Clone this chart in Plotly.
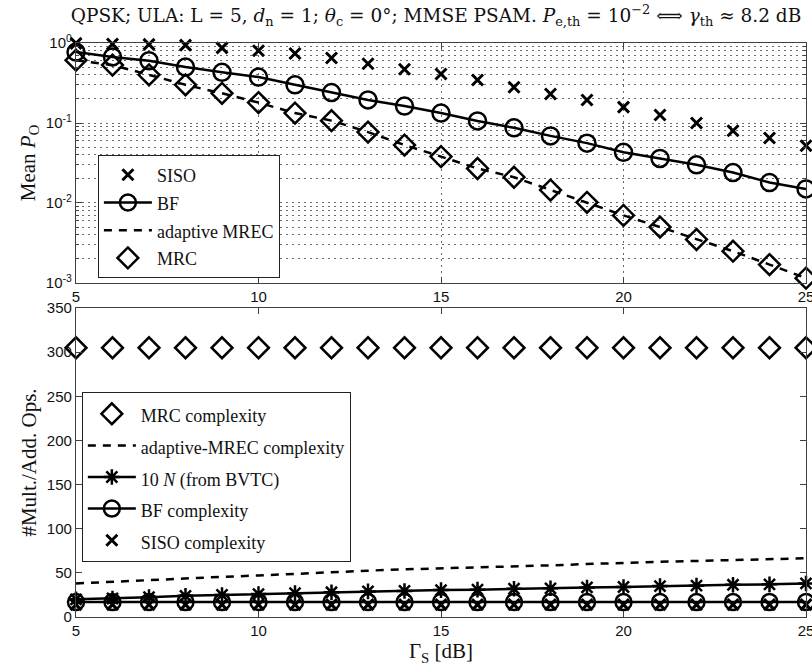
import plotly.graph_objects as go

# SNR grid (dB)
snr_db = [5, 6, 7, 8, 9, 10, 11, 12, 13, 14, 15, 16, 17, 18, 19, 20, 21, 22, 23, 24, 25]

# Mean outage probability per scheme
siso_po = [0.99, 0.97, 0.96, 0.94, 0.87, 0.80, 0.74, 0.65, 0.55, 0.47, 0.41,
           0.345, 0.28, 0.23, 0.194, 0.158, 0.126, 0.10, 0.08, 0.065, 0.052]
bf_po = [0.77, 0.67, 0.60, 0.50, 0.43, 0.375, 0.30, 0.24, 0.194, 0.163, 0.133,
         0.106, 0.087, 0.069, 0.056, 0.043, 0.036, 0.030, 0.024, 0.018, 0.015]
amrec_po = [0.61, 0.53, 0.40, 0.30, 0.235, 0.18, 0.133, 0.107, 0.077, 0.053, 0.038,
            0.027, 0.021, 0.0145, 0.0102, 0.007, 0.005, 0.0035, 0.0025, 0.0017, 0.00115]
mrc_po = [0.61, 0.53, 0.40, 0.30, 0.235, 0.18, 0.133, 0.107, 0.077, 0.053, 0.038,
          0.027, 0.021, 0.0145, 0.0102, 0.007, 0.005, 0.0035, 0.0025, 0.0017, 0.00115]

# Complexity (multiplications/additions)
mrc_ops = [305, 305, 305, 305, 305, 305, 305, 305, 305, 305, 305,
           305, 305, 305, 305, 305, 305, 305, 305, 305, 305]
amrec_ops = [38, 40, 42, 44, 45.5, 47, 49, 51, 52.5, 54, 55,
             56.5, 57.5, 58.5, 60, 61.5, 62.5, 63.5, 64.5, 65.5, 66.5]
bvtc_ops = [20, 21, 22.5, 24, 25, 26, 27, 28, 29, 29.5, 30.5,
            31, 32, 32.5, 33.5, 34, 35, 35.5, 36.5, 37, 38]
bf_ops = [17, 17, 17, 17, 17, 17, 17, 17, 17, 17, 17,
          17, 17, 17, 17, 17, 17, 17, 17, 17, 17]
siso_ops = [14, 14, 14, 14, 14, 14, 14, 14, 14, 14, 14,
            14, 14, 14, 14, 14, 14, 14, 14, 14, 14]

x_ticks = [5, 10, 15, 20, 25]
po_ticks = [1e-3, 1e-2, 1e-1, 1]
po_ticktext = ["10<sup>-3</sup>", "10<sup>-2</sup>", "10<sup>-1</sup>", "10<sup>0</sup>"]
ops_ticks = [0, 50, 100, 150, 200, 250, 300, 350]

SERIF = "Liberation Serif, DejaVu Serif, serif"
WIDE_SERIF = "DejaVu Serif, Liberation Serif, serif"
SANS = "Liberation Sans, Arial, sans-serif"
INK = "black"


def legend_label(text):
    # smaller glyphs inside a taller legend row
    return '<span style="font-size:18px">' + text + "</span>"


def add(x, y, name, legend, xa, ya, **kw):
    fig.add_trace(go.Scatter(x=x, y=y, name=legend_label(name), legend=legend,
                             xaxis=xa, yaxis=ya, cliponaxis=False, **kw))


fig = go.Figure()

# --- upper panel: mean outage probability ---
add(snr_db, siso_po, "SISO", "legend", "x", "y", mode="markers",
    marker=dict(symbol="x-thin-open", size=11, line=dict(width=3, color=INK), color=INK))
add(snr_db, bf_po, "BF", "legend", "x", "y", mode="lines+markers",
    line=dict(color=INK, width=2.5),
    marker=dict(symbol="circle-open", size=17, line=dict(width=2.5, color=INK), color=INK))
add(snr_db, amrec_po, "adaptive MREC", "legend", "x", "y", mode="lines",
    line=dict(color=INK, width=2.5, dash="8px,7px"))
add(snr_db, mrc_po, "MRC", "legend", "x", "y", mode="markers",
    marker=dict(symbol="diamond-open", size=16, line=dict(width=2.5, color=INK), color=INK))

# --- lower panel: computational complexity ---
add(snr_db, mrc_ops, "MRC complexity", "legend2", "x2", "y2", mode="markers",
    marker=dict(symbol="diamond-open", size=16, line=dict(width=2.5, color=INK), color=INK))
add(snr_db, amrec_ops, "adaptive-MREC complexity", "legend2", "x2", "y2", mode="lines",
    line=dict(color=INK, width=2.5, dash="8px,7px"))
add(snr_db, bvtc_ops, "10 <i>N</i> (from BVTC)", "legend2", "x2", "y2", mode="lines+markers",
    line=dict(color=INK, width=2.5),
    marker=dict(symbol="asterisk-open", size=13, line=dict(width=2.5, color=INK), color=INK))
add(snr_db, bf_ops, "BF complexity", "legend2", "x2", "y2", mode="lines+markers",
    line=dict(color=INK, width=2.5),
    marker=dict(symbol="circle-open", size=16, line=dict(width=2.5, color=INK), color=INK))
add(snr_db, siso_ops, "SISO complexity", "legend2", "x2", "y2", mode="markers",
    marker=dict(symbol="x-thin-open", size=11, line=dict(width=3, color=INK), color=INK))

axis_common = dict(
    showline=True, linecolor="#404040", linewidth=1.2, mirror="allticks",
    ticks="inside", ticklen=6, tickcolor="#404040",
    tickfont=dict(family=SANS, size=15, color="#111"),
    ticklabeloverflow="allow", automargin=False,
    zeroline=False,
)

minor_po = [m * 10 ** e for e in (-3, -2, -1) for m in range(2, 10)]

GRID = dict(showgrid=True, gridcolor="#6a6a6a", griddash="2px,4px", gridwidth=1)

fig.update_layout(
    width=812, height=668,
    margin=dict(l=76, r=6, t=43, b=51, autoexpand=False),
    paper_bgcolor="white", plot_bgcolor="white",
    title=dict(
        text=("QPSK; ULA: L = 5, <i>d</i><sub>n</sub> = 1; <i>θ</i><sub>c</sub> = 0°; "
              "MMSE PSAM. <i>P</i><sub>e,th</sub> = 10<sup>−2</sup> ⟺ "
              "<i>γ</i><sub>th</sub> ≈ 8.2 dB"),
        font=dict(family=WIDE_SERIF, size=18.5, color="#111"),
        x=0.537, xanchor="center", y=0.977, yanchor="middle"),
    xaxis=dict(axis_common, domain=[0, 1], anchor="y", range=[5, 25],
               tickvals=x_ticks, **GRID),
    yaxis=dict(axis_common, domain=[0.5819, 1], anchor="x", type="log",
               range=[-3, 0], tickvals=po_ticks, ticktext=po_ticktext,
               **GRID,
               minor=dict(tickvals=minor_po, ticks="inside", ticklen=3,
                          tickcolor="#404040", showgrid=True,
                          gridcolor="#6a6a6a", griddash="2px,4px", gridwidth=1),
               title=dict(text="Mean <i>P</i><sub>O</sub>",
                          font=dict(family=SERIF, size=21, color="#111"),
                          standoff=4)),
    xaxis2=dict(axis_common, domain=[0, 1], anchor="y2", range=[5, 25],
                tickvals=x_ticks, showgrid=False,
                title=dict(text="Γ<sub>S</sub> [dB]",
                           font=dict(family=SERIF, size=21, color="#111"),
                           standoff=4)),
    yaxis2=dict(axis_common, domain=[0, 0.5383], anchor="x2", range=[0, 350],
                tickvals=ops_ticks, showgrid=False,
                title=dict(text="#Mult./Add. Ops.",
                           font=dict(family=SERIF, size=21, color="#111"),
                           standoff=4)),
    legend=dict(bgcolor="white", bordercolor="#222", borderwidth=1,
                font=dict(family=SERIF, size=19, color="#111"),
                xanchor="left", yanchor="top", itemwidth=48,
                x=0.030, y=0.805),
    legend2=dict(bgcolor="white", bordercolor="#222", borderwidth=1,
                 font=dict(family=SERIF, size=22, color="#111"),
                 xanchor="left", yanchor="top", itemwidth=48,
                 x=0.008, y=0.392),
)

fig.write_html("out.html")
